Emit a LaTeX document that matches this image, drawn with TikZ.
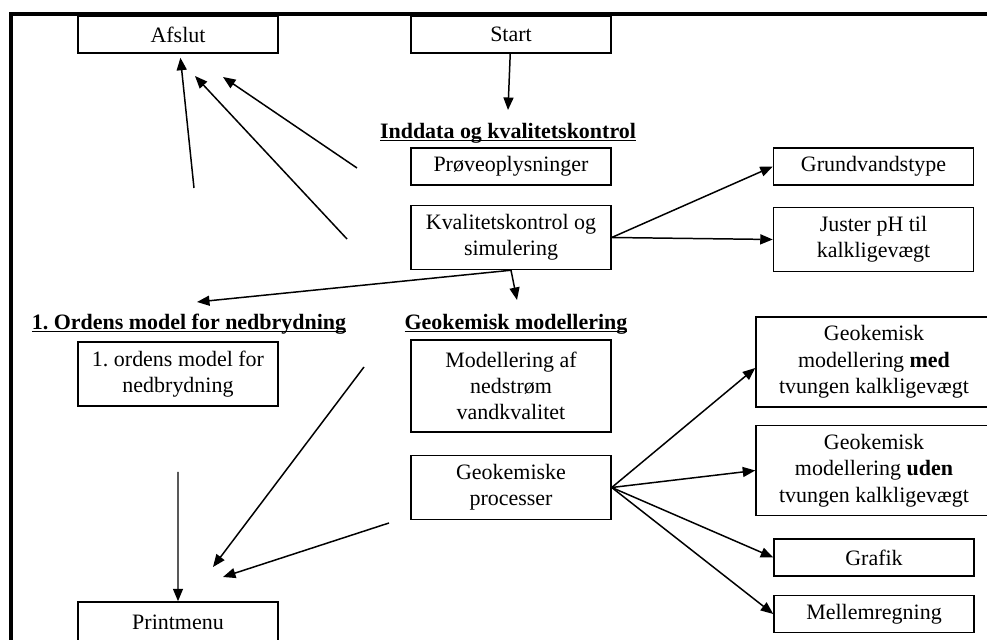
\documentclass[tikz,border=0pt]{standalone}
\usepackage{fontspec}
\setmainfont{Liberation Serif}
\usetikzlibrary{arrows.meta}

\newcommand{\hdline}[1]{\sbox0{\textbf{#1}}\rlap{\rule[-1.6pt]{\wd0}{0.8pt}}\usebox0}

\begin{document}
\begin{tikzpicture}[node distance=2cm, every node/.style={font=\fontsize{12.5}{15}\selectfont\frenchspacing}]
% Styles
\tikzstyle{box} = [rectangle, minimum width=4cm, minimum height=0.74cm, text centered, draw=black, line width=0.85pt, align=center, inner sep=2pt]
\tikzstyle{tallbox} = [box, minimum height=1.28cm]
\tikzstyle{widebox} = [box, minimum width=4.72cm, minimum height=1.8cm]
\tikzstyle{heading} = [align=center, inner sep=1pt]
\tikzstyle{arrow} = [line width=0.85pt, -{Triangle[length=0.25cm, width=0.2cm]}]

\useasboundingbox (0,0) rectangle (19.74,-12.8);

% Frame
\draw [line width=1.8pt] (0.22,-13) -- (0.22,-0.28) -- (20,-0.28);

% Nodes
\node (start) [box] at (10.22,-0.69) {Start};
\node (afslut) [box, left of=start, xshift=-4.66cm] {Afslut};
\node (inddata) [heading, below of=start, xshift=-0.06cm, yshift=0.03cm] {\hdline{Inddata og kvalitetskontrol}};
\node (proeve) [box, below of=start, yshift=-0.64cm] {Prøveoplysninger};
\node (kval) [tallbox, below of=proeve, yshift=0.58cm] {Kvalitetskontrol og\\simulering};
\node (grund) [box, right of=proeve, xshift=5.25cm] {Grundvandstype};
\node (juster) [tallbox, right of=kval, xshift=5.25cm, yshift=-0.04cm] {Juster pH til\\kalkligevægt};
\node (geohead) [heading, below of=kval, xshift=0.10cm, yshift=0.27cm] {\hdline{Geokemisk modellering}};
\node (ordhead) [heading, left of=geohead, xshift=-4.54cm] {\hdline{1. Ordens model for nedbrydning}};
\node (ordens) [tallbox, below of=ordhead, xshift=-0.22cm, yshift=1cm] {1. ordens model for\\nedbrydning};
\node (model) [box, minimum height=1.84cm, below of=kval, yshift=-0.97cm] {Modellering af\\nedstrøm\\vandkvalitet};
\node (geoproc) [tallbox, below of=model, yshift=-0.03cm] {Geokemiske\\processer};
\node (med) [widebox, right of=model, xshift=5.26cm, yshift=0.48cm] {Geokemisk\\modellering \textbf{med}\\tvungen kalkligevægt};
\node (uden) [widebox, right of=geoproc, xshift=5.26cm, yshift=0.34cm] {Geokemisk\\modellering \textbf{uden}\\tvungen kalkligevægt};
\node (grafik) [box, below of=uden, yshift=0.26cm] {Grafik};
\node (mellem) [box, below of=grafik, yshift=0.87cm] {Mellemregning};
\node (print) [box, minimum height=0.8cm, below of=ordens, yshift=-2.96cm] {Printmenu};

% Loose ends
\coordinate (q1) at (3.88,-3.76);
\coordinate (q2) at (6.94,-4.78);
\coordinate (q2e) at (3.90,-1.52);
\coordinate (q3) at (7.14,-3.36);
\coordinate (q3e) at (4.46,-1.54);
\coordinate (s1) at (10.16,-2.20);
\coordinate (o1) at (3.94,-6.04);
\coordinate (g1) at (10.34,-6.00);
\coordinate (p1) at (3.56,-9.44);
\coordinate (p2) at (7.28,-7.34);
\coordinate (p2e) at (4.26,-11.34);
\coordinate (p3) at (7.78,-10.46);
\coordinate (p3e) at (4.46,-11.54);

% Arrows
\draw [arrow] (start) -- (s1);
\draw [arrow] (kval.east) -- (grund.west);
\draw [arrow] (kval.east) -- (juster.west);
\draw [arrow] (kval.south) -- (o1);
\draw [arrow] (kval.south) -- (g1);
\draw [arrow, shorten >=0.08cm] (q1) -- (afslut);
\draw [arrow] (q2) -- (q2e);
\draw [arrow] (q3) -- (q3e);
\draw [arrow] (geoproc.east) -- ([yshift=-0.12cm]med.west);
\draw [arrow] (geoproc.east) -- (uden.west);
\draw [arrow] (geoproc.east) -- (grafik.west);
\draw [arrow] (geoproc.east) -- (mellem.west);
\draw [arrow] (p1) -- (print);
\draw [arrow] (p2) -- (p2e);
\draw [arrow] (p3) -- (p3e);
\end{tikzpicture}
\end{document}
